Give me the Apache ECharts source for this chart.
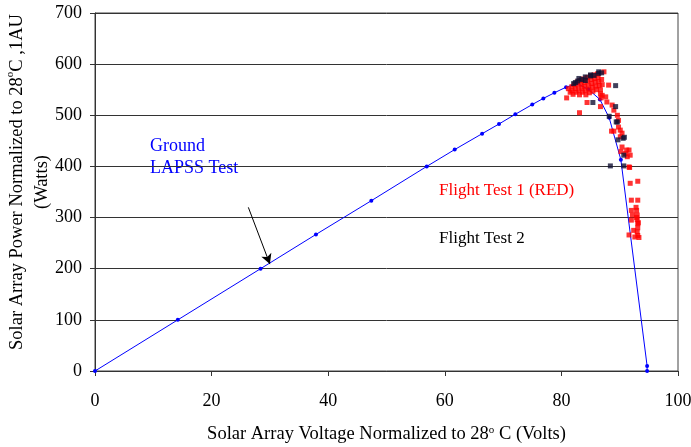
<!DOCTYPE html>
<html>
<head>
<meta charset="utf-8">
<script src="https://cdn.jsdelivr.net/npm/echarts@6/dist/echarts.min.js"></script>
<style>
  html, body { margin: 0; padding: 0; background: #fff; }
  #chart { width: 691px; height: 447px; }
</style>
</head>
<body>
<div id="chart"></div>
<script>
// ground LAPSS test curve [volts, watts]
var groundLapss = [
  [0, 0], [14.2, 100], [28.4, 200], [37.9, 267], [47.4, 333], [56.9, 400],
  [61.7, 433], [66.4, 464], [69.3, 483], [72.1, 502], [75.0, 521], [76.9, 533],
  [78.8, 544], [80.8, 555], [82.7, 562], [84.6, 551], [86.6, 531], [88.2, 495],
  [90.2, 413], [94.7, 10], [94.7, 0]
]

// flight test 1 (red)
var flightTest1 = [
  [81.2, 552], [81.5, 545], [81.8, 548], [81.8, 556], [82.0, 541], [82.2, 560],
  [82.4, 552], [82.5, 545], [82.7, 565], [82.9, 557], [83.0, 548], [83.1, 540],
  [83.2, 568], [83.4, 561], [83.5, 553], [83.6, 545], [83.8, 571], [83.9, 564],
  [84.0, 556], [84.1, 548], [84.2, 540], [84.4, 574], [84.5, 567], [84.6, 559],
  [84.7, 551], [84.8, 544], [85.0, 577], [85.1, 570], [85.2, 562], [85.3, 555],
  [85.4, 547], [85.6, 579], [85.7, 572], [85.8, 565], [85.9, 557], [86.0, 550],
  [86.2, 581], [86.3, 574], [86.4, 566], [86.5, 558], [86.7, 550], [86.7, 542],
  [86.8, 534], [86.9, 570], [87.0, 560],
  [80.9, 534], [83.1, 505], [84.4, 525], [86.7, 517], [87.3, 585], [88.1, 559],
  [87.8, 526], [87.0, 539], [87.6, 536], [88.7, 520], [89.0, 510], [89.6, 500],
  [89.8, 490], [89.8, 477], [89.0, 469], [88.6, 469], [90.1, 471], [90.4, 465],
  [90.1, 458], [90.4, 438], [90.2, 429], [91.0, 425], [91.2, 432], [91.6, 432],
  [91.3, 419], [91.8, 422], [91.7, 398], [91.6, 399], [91.8, 367], [93.1, 371],
  [92.0, 334], [93.1, 334], [92.0, 314], [92.0, 295], [92.9, 314], [93.0, 305],
  [93.0, 296], [93.1, 288], [93.1, 280], [93.0, 272], [93.1, 265], [93.3, 261],
  [92.6, 262], [92.4, 275], [91.6, 266], [92.8, 320], [92.9, 300], [93.2, 290],
  [92.2, 305]
]

// flight test 2 (black)
var flightTest2 = [
  [82.1, 562], [82.4, 564], [82.8, 567], [83.0, 572], [83.5, 570], [84.1, 575],
  [84.1, 568], [85.0, 579], [85.0, 577], [85.6, 578], [86.4, 582], [86.4, 585],
  [86.9, 583], [89.3, 558], [85.4, 525], [89.3, 517], [89.6, 487], [89.4, 487],
  [88.2, 498], [89.7, 452], [90.6, 455], [90.8, 457], [88.4, 401], [90.7, 401],
  [90.7, 422]
]

var xTicks = { min: 0, max: 100, step: 20 }
var yTicks = { min: 0, max: 700, step: 100 }

var serif = '"Liberation Serif", "DejaVu Serif", serif'

var chart = echarts.init(document.getElementById('chart'))

var option = {
  animation: false,
  backgroundColor: '#fff',
  grid: {
    left: 95,
    right: 13,
    top: 13,
    bottom: 76,
    outerBoundsMode: 'none',
    containLabel: false,
    show: true,
    borderColor: '#444',
    borderWidth: 1
  },
  xAxis: {
    type: 'value',
    min: xTicks.min,
    max: xTicks.max,
    interval: xTicks.step,
    name: '{a|Solar Array Voltage Normalized to 28}{s|o}{a| C (Volts)}',
    nameLocation: 'middle',
    nameGap: 54,
    nameMoveOverlap: false,
    nameTextStyle: {
      rich: {
        a: { fontFamily: serif, fontSize: 18.5, color: '#000' },
        s: { fontFamily: serif, fontSize: 11, color: '#000', verticalAlign: 'top', padding: [0, 0, 8, 0] }
      }
    },
    axisLine: { lineStyle: { color: '#333', width: 1 } },
    axisTick: { show: true, length: 5, lineStyle: { color: '#333' } },
    axisLabel: { fontFamily: serif, fontSize: 18, color: '#000', margin: 21 },
    splitLine: { show: false }
  },
  yAxis: {
    type: 'value',
    min: yTicks.min,
    max: yTicks.max,
    interval: yTicks.step,
    name: '{a|Solar Array Power Normalized to 28}{s|o}{a|C ,1AU}\n{a|(Watts)}',
    nameLocation: 'middle',
    nameGap: 40,
    nameMoveOverlap: false,
    nameTextStyle: {
      lineHeight: 25,
      padding: [0, 0, 0, 20],
      rich: {
        a: { fontFamily: serif, fontSize: 18.5, color: '#000', lineHeight: 25 },
        s: { fontFamily: serif, fontSize: 11, color: '#000', verticalAlign: 'top', padding: [0, 0, 8, 0] }
      }
    },
    axisLine: { lineStyle: { color: '#333', width: 1 } },
    axisTick: { show: true, length: 5, lineStyle: { color: '#333' } },
    axisLabel: { fontFamily: serif, fontSize: 18, color: '#000', margin: 13 },
    splitLine: { show: true, lineStyle: { color: '#333', width: 1 } }
  },
  graphic: [
    {
      type: 'text',
      left: 150,
      top: 135,
      style: {
        text: 'Ground\nLAPSS Test',
        fill: '#0000ff',
        font: '18px ' + serif,
        lineHeight: 22
      }
    },
    {
      type: 'text',
      left: 439,
      top: 182,
      style: { text: 'Flight Test 1 (RED)', fill: '#ff0000', font: '17px ' + serif }
    },
    {
      type: 'text',
      left: 439,
      top: 230,
      style: { text: 'Flight Test 2', fill: '#000', font: '17px ' + serif }
    }
  ],
  series: [
    {
      name: 'Ground LAPSS Test',
      type: 'line',
      data: groundLapss,
      smooth: false,
      symbol: 'circle',
      symbolSize: 4,
      showAllSymbol: true,
      lineStyle: { color: '#0000ff', width: 1 },
      itemStyle: { color: '#0000ff' },
      z: 2,
      markLine: {
        silent: true,
        symbol: ['none', 'arrow'],
        symbolSize: [8, 10],
        label: { show: false },
        lineStyle: { color: '#000', width: 1, type: 'solid' },
        data: [[{ coord: [26.3, 320] }, { coord: [30.0, 209] }]]
      }
    },
    {
      name: 'Flight Test 1',
      type: 'scatter',
      data: flightTest1,
      symbol: 'rect',
      symbolSize: [5, 5],
      itemStyle: { color: '#ff0000' },
      z: 4
    },
    {
      name: 'Flight Test 2',
      type: 'scatter',
      data: flightTest2,
      symbol: 'rect',
      symbolSize: [5, 5],
      itemStyle: { color: '#111133' },
      z: 5
    }
  ]
}

chart.setOption(option)
</script>
</body>
</html>
